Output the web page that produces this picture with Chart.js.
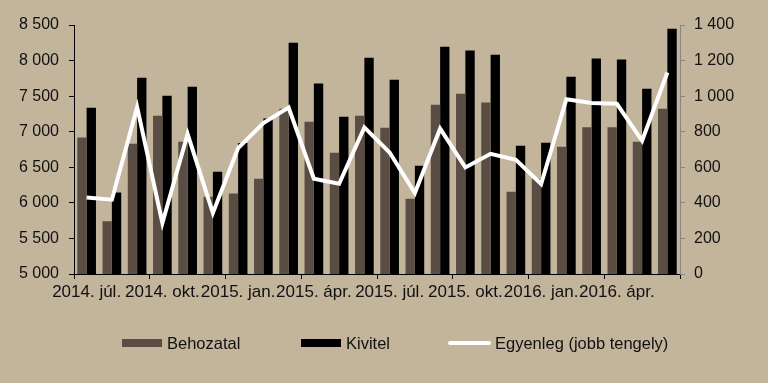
<!DOCTYPE html>
<html>
<head>
<meta charset="utf-8">
<script src="https://cdn.jsdelivr.net/npm/chart.js@4/dist/chart.umd.min.js"></script>
<style>
  html, body { margin: 0; padding: 0; background: #C3B49C; }
  #wrap { position: relative; width: 768px; height: 383px; }
  canvas { display: block; }
  #legend { position: absolute; left: 0; top: 335px; width: 768px; height: 16px;
    font: 16.5px "Liberation Sans", Arial, sans-serif; color: #111; }
  .li { position: absolute; top: 0; height: 16px; display: flex; align-items: center; line-height: 16px; white-space: nowrap; }
  .sw { width: 40px; margin-right: 5px; }
</style>
</head>
<body>
<div id="wrap">
  <canvas id="c" width="768" height="383"></canvas>
  <div id="legend"></div>
</div>
<script>
const months = ['2014. júl.','2014. aug.','2014. szept.','2014. okt.','2014. nov.','2014. dec.',
  '2015. jan.','2015. febr.','2015. márc.','2015. ápr.','2015. máj.','2015. jún.',
  '2015. júl.','2015. aug.','2015. szept.','2015. okt.','2015. nov.','2015. dec.',
  '2016. jan.','2016. febr.','2016. márc.','2016. ápr.','2016. máj.','2016. jún.'];
const behozatal = [6920,5740,6832,7226,6860,6087,6133,6340,7324,7141,6705,7226,7057,6059,7380,7535,7410,6157,6340,6790,7061,7061,6860,7324];
const kivitel   = [7338,6147,7760,7507,7633,6438,6842,7184,8252,7676,7212,8041,7732,6523,8196,8140,8083,6804,6846,7774,8030,8016,7605,8449];
const egyenleg  = [430,418,938,287,787,343,708,849,936,536,507,824,683,455,817,599,676,642,506,983,962,957,749,1133];
const seriesNames = ['Behozatal','Kivitel','Egyenleg (jobb tengely)'];

const fmt = v => String(v).replace(/\B(?=(\d{3})+(?!\d))/g, ' ');
const FONT = { family: '"Liberation Sans", Arial, sans-serif', size: 16 };
const XFONT = { family: '"Liberation Sans", Arial, sans-serif', size: 17 };
Chart.defaults.color = '#111';

const chart = new Chart(document.getElementById('c'), {
  type: 'bar',
  data: {
    labels: months,
    datasets: [
      { type: 'line', label: seriesNames[2], data: egyenleg, yAxisID: 'y1', borderColor: '#ffffff',
        backgroundColor: '#ffffff', borderWidth: 4, pointRadius: 0, tension: 0, order: 0 },
      { label: seriesNames[0], data: behozatal, backgroundColor: '#5A4D44', yAxisID: 'y', order: 1,
        barPercentage: 1, categoryPercentage: 0.74 },
      { label: seriesNames[1], data: kivitel, backgroundColor: '#000000', yAxisID: 'y', order: 1,
        barPercentage: 1, categoryPercentage: 0.74 }
    ]
  },
  options: {
    responsive: false,
    animation: false,
    layout: { padding: { top: 25, bottom: 79, left: 0, right: 0 } },
    plugins: { legend: { display: false }, tooltip: { enabled: false } },
    scales: {
      x: {
        offset: true,
        grid: { offset: true, drawOnChartArea: false, drawTicks: true, tickLength: 5,
          tickColor: c => (c.tick === undefined || c.index % 3 === 0) ? '#000' : 'rgba(0,0,0,0)' },
        border: { color: '#000', width: 1 },
        ticks: { autoSkip: false, maxRotation: 0, minRotation: 0, padding: 3, font: XFONT,
          callback: function(v, i) { return i % 3 === 0 ? this.getLabelForValue(v) : ''; } },
        afterFit: s => { s.height = 30; }
      },
      y: {
        position: 'left', min: 5000, max: 8500,
        grid: { drawOnChartArea: false, tickLength: 5, tickColor: '#000' },
        border: { color: '#000', width: 1 },
        ticks: { stepSize: 500, padding: 10, font: FONT, callback: v => fmt(v) },
        afterFit: s => { s.width = 74; }
      },
      y1: {
        position: 'right', min: 0, max: 1400,
        grid: { drawOnChartArea: false, tickLength: 5, tickColor: '#868686' },
        border: { color: '#868686', width: 1 },
        ticks: { stepSize: 200, padding: 9, font: FONT, callback: v => fmt(v) },
        afterFit: s => { s.width = 88; }
      }
    }
  }
});

// HTML legend built from the chart's datasets
const legendX = { 'Behozatal': 122, 'Kivitel': 301, 'Egyenleg (jobb tengely)': 448 };
const lg = document.getElementById('legend');
seriesNames.forEach(name => {
  const ds = chart.data.datasets.find(d => d.label === name);
  const item = document.createElement('div');
  item.className = 'li';
  item.style.left = legendX[name] + 'px';
  const sw = document.createElement('span');
  sw.className = 'sw';
  if (ds.type === 'line') {
    sw.style.width = '43px'; sw.style.height = '4px'; sw.style.background = ds.borderColor;
    sw.style.borderRadius = '2px'; sw.style.marginRight = '4px';
  } else {
    sw.style.height = '8px'; sw.style.background = ds.backgroundColor;
  }
  const tx = document.createElement('span');
  tx.textContent = name;
  item.appendChild(sw); item.appendChild(tx);
  lg.appendChild(item);
});
</script>
</body>
</html>
